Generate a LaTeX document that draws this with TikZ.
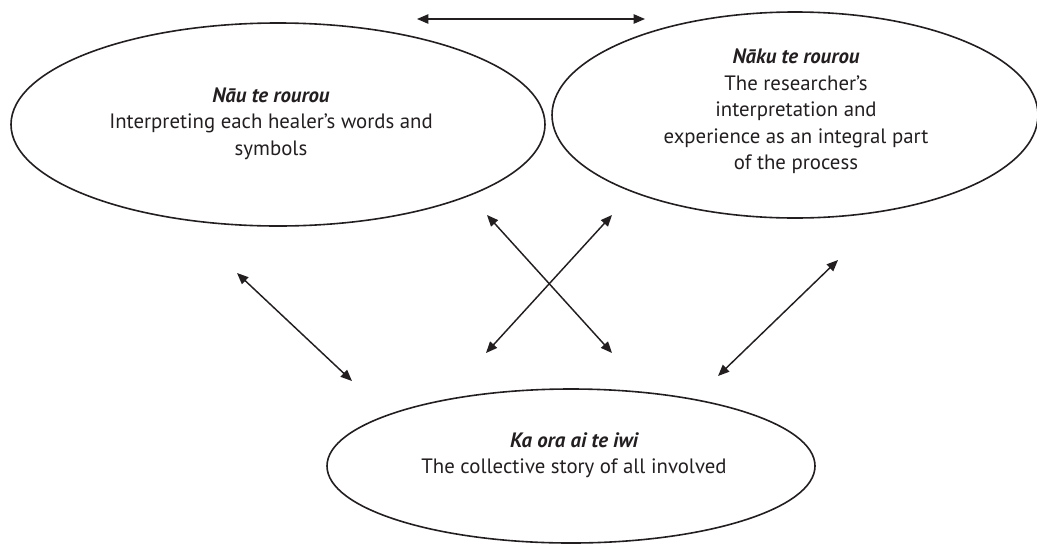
\documentclass[tikz,border=0pt]{standalone}
\usepackage{fontspec}
\setmainfont{PT Sans}
\usetikzlibrary{shapes.geometric,arrows.meta}
\definecolor{ink}{HTML}{231F20}
\begin{document}
\begin{tikzpicture}[x=0.75pt,y=-0.75pt,
  oval/.style={ellipse,draw=ink,line width=1.2pt,inner sep=0pt},
  txt/.style={align=center,text=ink,font=\fontsize{15.6}{19.9}\selectfont,inner sep=0pt},
  conn/.style={draw=ink,line width=1.1pt,
    {Triangle[length=8.5pt,width=7pt]}-{Triangle[length=8.5pt,width=7pt]}}]
\useasboundingbox (0,0) rectangle (1037,543);

% ellipses
\node[oval,minimum width=400.5pt,minimum height=152.25pt] (left) at (278,124.5) {};
\node[oval,minimum width=364.5pt,minimum height=154.5pt] (right) at (795,115) {};
\node[oval,minimum width=366pt,minimum height=115.5pt] (bot) at (571,466) {};

% texts
\node[txt] (lefttxt) at (271,123.5) {{\bfseries\itshape Nāu te rourou}\\Interpreting each healer’s words and\\symbols};
\node[txt] (righttxt) at (796,111.5) {{\bfseries\itshape Nāku te rourou}\\The researcher’s\\interpretation and\\experience as an integral part\\of the process};
\node[txt] (bottxt) at (574,455) {{\bfseries\itshape Ka ora ai te iwi}\\The collective story of all involved};

% arrow ends
\coordinate (t1) at (417,19);
\coordinate (t2) at (645,19);
\coordinate (l1) at (237,273);
\coordinate (l2) at (352,381);
\coordinate (xa1) at (487,215);
\coordinate (xa2) at (612,353);
\coordinate (xb1) at (612,215);
\coordinate (xb2) at (486,353);
\coordinate (r1) at (838,260);
\coordinate (r2) at (718,376);

\draw[conn] (t1) -- (t2);
\draw[conn] (l1) -- (l2);
\draw[conn] (xa1) -- (xa2);
\draw[conn] (xb1) -- (xb2);
\draw[conn] (r1) -- (r2);
\end{tikzpicture}
\end{document}
